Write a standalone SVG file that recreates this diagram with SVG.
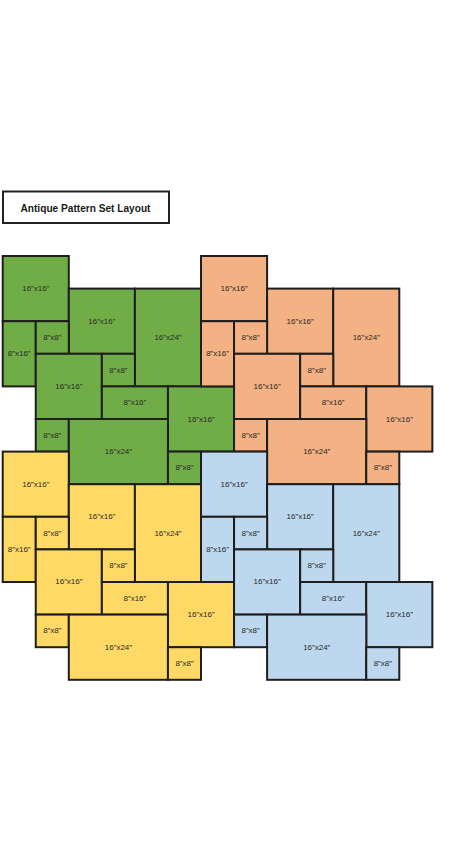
<svg xmlns="http://www.w3.org/2000/svg" width="474" height="842" viewBox="0 0 474 842">
<style>
  rect.t { stroke: #1e1e1e; stroke-width: 2; }
  .g rect.t { fill: #70AD47; }
  .o rect.t { fill: #F4B183; }
  .y rect.t { fill: #FFD966; }
  .b rect.t { fill: #BDD7EE; }
  text.l { font-family: "Liberation Sans", Arial, sans-serif; font-size: 8px; fill: #2a2a2a; text-anchor: middle; dominant-baseline: central; }
  text.title { font-family: "Liberation Sans", Arial, sans-serif; font-size: 10.5px; font-weight: bold; fill: #1a1a1a; text-anchor: middle; dominant-baseline: central; }
</style>
<rect width="474" height="842" fill="#ffffff"/>
<g id="title">
  <rect x="3" y="191.5" width="166" height="31.5" fill="#ffffff" stroke="#222" stroke-width="2"/>
  <text class="title" x="85.5" y="207.5" textLength="130" lengthAdjust="spacingAndGlyphs">Antique Pattern Set Layout</text>
</g>
<g id="connectors"></g>

<g id="green" class="g">
  <g id="g-a"><rect class="t" x="2.7" y="256" width="66.1" height="65.2"/><text class="l" x="35.75" y="288.6">16”x16”</text></g>
  <g id="g-b"><rect class="t" x="68.8" y="288.6" width="66.1" height="65.2"/><text class="l" x="101.85" y="321.2">16”x16”</text></g>
  <g id="g-c"><rect class="t" x="134.9" y="288.6" width="66.1" height="97.8"/><text class="l" x="167.95" y="337.5">16”x24”</text></g>
  <g id="g-d"><rect class="t" x="2.7" y="321.2" width="33.05" height="65.2"/><text class="l" x="19.2" y="353.8">8”x16”</text></g>
  <g id="g-e"><rect class="t" x="35.75" y="321.2" width="33.05" height="32.6"/><text class="l" x="52.3" y="337.5">8”x8”</text></g>
  <g id="g-f"><rect class="t" x="35.75" y="353.8" width="66.1" height="65.2"/><text class="l" x="68.8" y="386.4">16”x16”</text></g>
  <g id="g-g"><rect class="t" x="101.85" y="353.8" width="33.05" height="32.6"/><text class="l" x="118.4" y="370.1">8”x8”</text></g>
  <g id="g-h"><rect class="t" x="101.85" y="386.4" width="66.1" height="32.6"/><text class="l" x="134.9" y="402.7">8”x16”</text></g>
  <g id="g-i"><rect class="t" x="167.95" y="386.4" width="66.1" height="65.2"/><text class="l" x="201" y="419">16”x16”</text></g>
  <g id="g-j"><rect class="t" x="35.75" y="419" width="33.05" height="32.6"/><text class="l" x="52.3" y="435.3">8”x8”</text></g>
  <g id="g-k"><rect class="t" x="68.8" y="419" width="99.15" height="65.2"/><text class="l" x="118.4" y="451.6">16”x24”</text></g>
  <g id="g-l"><rect class="t" x="167.95" y="451.6" width="33.05" height="32.6"/><text class="l" x="184.5" y="467.9">8”x8”</text></g>
</g>

<g id="orange" class="o" transform="translate(198.3,0)">
  <g id="o-a"><rect class="t" x="2.7" y="256" width="66.1" height="65.2"/><text class="l" x="35.75" y="288.6">16”x16”</text></g>
  <g id="o-b"><rect class="t" x="68.8" y="288.6" width="66.1" height="65.2"/><text class="l" x="101.85" y="321.2">16”x16”</text></g>
  <g id="o-c"><rect class="t" x="134.9" y="288.6" width="66.1" height="97.8"/><text class="l" x="167.95" y="337.5">16”x24”</text></g>
  <g id="o-d"><rect class="t" x="2.7" y="321.2" width="33.05" height="65.2"/><text class="l" x="19.2" y="353.8">8”x16”</text></g>
  <g id="o-e"><rect class="t" x="35.75" y="321.2" width="33.05" height="32.6"/><text class="l" x="52.3" y="337.5">8”x8”</text></g>
  <g id="o-f"><rect class="t" x="35.75" y="353.8" width="66.1" height="65.2"/><text class="l" x="68.8" y="386.4">16”x16”</text></g>
  <g id="o-g"><rect class="t" x="101.85" y="353.8" width="33.05" height="32.6"/><text class="l" x="118.4" y="370.1">8”x8”</text></g>
  <g id="o-h"><rect class="t" x="101.85" y="386.4" width="66.1" height="32.6"/><text class="l" x="134.9" y="402.7">8”x16”</text></g>
  <g id="o-i"><rect class="t" x="167.95" y="386.4" width="66.1" height="65.2"/><text class="l" x="201" y="419">16”x16”</text></g>
  <g id="o-j"><rect class="t" x="35.75" y="419" width="33.05" height="32.6"/><text class="l" x="52.3" y="435.3">8”x8”</text></g>
  <g id="o-k"><rect class="t" x="68.8" y="419" width="99.15" height="65.2"/><text class="l" x="118.4" y="451.6">16”x24”</text></g>
  <g id="o-l"><rect class="t" x="167.95" y="451.6" width="33.05" height="32.6"/><text class="l" x="184.5" y="467.9">8”x8”</text></g>
</g>

<g id="yellow" class="y" transform="translate(0,195.6)">
  <g id="y-a"><rect class="t" x="2.7" y="256" width="66.1" height="65.2"/><text class="l" x="35.75" y="288.6">16”x16”</text></g>
  <g id="y-b"><rect class="t" x="68.8" y="288.6" width="66.1" height="65.2"/><text class="l" x="101.85" y="321.2">16”x16”</text></g>
  <g id="y-c"><rect class="t" x="134.9" y="288.6" width="66.1" height="97.8"/><text class="l" x="167.95" y="337.5">16”x24”</text></g>
  <g id="y-d"><rect class="t" x="2.7" y="321.2" width="33.05" height="65.2"/><text class="l" x="19.2" y="353.8">8”x16”</text></g>
  <g id="y-e"><rect class="t" x="35.75" y="321.2" width="33.05" height="32.6"/><text class="l" x="52.3" y="337.5">8”x8”</text></g>
  <g id="y-f"><rect class="t" x="35.75" y="353.8" width="66.1" height="65.2"/><text class="l" x="68.8" y="386.4">16”x16”</text></g>
  <g id="y-g"><rect class="t" x="101.85" y="353.8" width="33.05" height="32.6"/><text class="l" x="118.4" y="370.1">8”x8”</text></g>
  <g id="y-h"><rect class="t" x="101.85" y="386.4" width="66.1" height="32.6"/><text class="l" x="134.9" y="402.7">8”x16”</text></g>
  <g id="y-i"><rect class="t" x="167.95" y="386.4" width="66.1" height="65.2"/><text class="l" x="201" y="419">16”x16”</text></g>
  <g id="y-j"><rect class="t" x="35.75" y="419" width="33.05" height="32.6"/><text class="l" x="52.3" y="435.3">8”x8”</text></g>
  <g id="y-k"><rect class="t" x="68.8" y="419" width="99.15" height="65.2"/><text class="l" x="118.4" y="451.6">16”x24”</text></g>
  <g id="y-l"><rect class="t" x="167.95" y="451.6" width="33.05" height="32.6"/><text class="l" x="184.5" y="467.9">8”x8”</text></g>
</g>

<g id="blue" class="b" transform="translate(198.3,195.6)">
  <g id="b-a"><rect class="t" x="2.7" y="256" width="66.1" height="65.2"/><text class="l" x="35.75" y="288.6">16”x16”</text></g>
  <g id="b-b"><rect class="t" x="68.8" y="288.6" width="66.1" height="65.2"/><text class="l" x="101.85" y="321.2">16”x16”</text></g>
  <g id="b-c"><rect class="t" x="134.9" y="288.6" width="66.1" height="97.8"/><text class="l" x="167.95" y="337.5">16”x24”</text></g>
  <g id="b-d"><rect class="t" x="2.7" y="321.2" width="33.05" height="65.2"/><text class="l" x="19.2" y="353.8">8”x16”</text></g>
  <g id="b-e"><rect class="t" x="35.75" y="321.2" width="33.05" height="32.6"/><text class="l" x="52.3" y="337.5">8”x8”</text></g>
  <g id="b-f"><rect class="t" x="35.75" y="353.8" width="66.1" height="65.2"/><text class="l" x="68.8" y="386.4">16”x16”</text></g>
  <g id="b-g"><rect class="t" x="101.85" y="353.8" width="33.05" height="32.6"/><text class="l" x="118.4" y="370.1">8”x8”</text></g>
  <g id="b-h"><rect class="t" x="101.85" y="386.4" width="66.1" height="32.6"/><text class="l" x="134.9" y="402.7">8”x16”</text></g>
  <g id="b-i"><rect class="t" x="167.95" y="386.4" width="66.1" height="65.2"/><text class="l" x="201" y="419">16”x16”</text></g>
  <g id="b-j"><rect class="t" x="35.75" y="419" width="33.05" height="32.6"/><text class="l" x="52.3" y="435.3">8”x8”</text></g>
  <g id="b-k"><rect class="t" x="68.8" y="419" width="99.15" height="65.2"/><text class="l" x="118.4" y="451.6">16”x24”</text></g>
  <g id="b-l"><rect class="t" x="167.95" y="451.6" width="33.05" height="32.6"/><text class="l" x="184.5" y="467.9">8”x8”</text></g>
</g>
</svg>
